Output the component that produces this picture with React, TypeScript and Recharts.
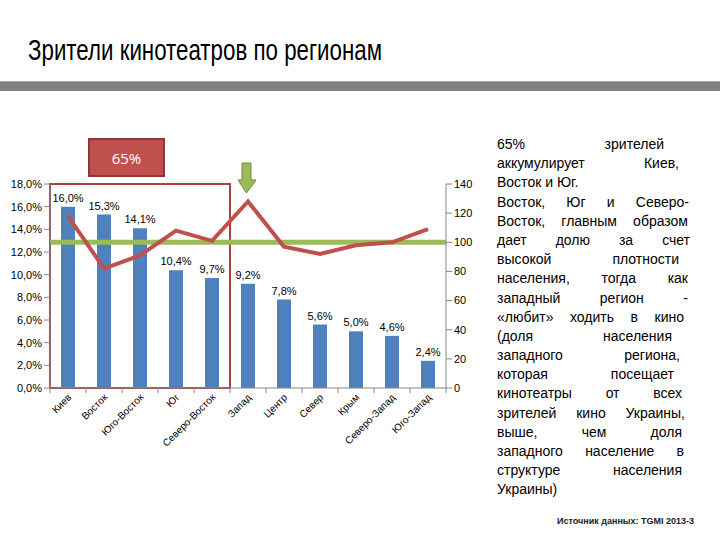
import React from "react";
import {
  ComposedChart,
  Bar,
  Line,
  XAxis,
  YAxis,
  LabelList,
  ReferenceLine,
  ReferenceArea,
} from "recharts";

// регионы и доли зрителей (%), индекс посещаемости
const REGIONS = [
  "Киев",
  "Восток",
  "Юго-Восток",
  "Юг",
  "Северо-Восток",
  "Запад",
  "Центр",
  "Север",
  "Крым",
  "Северо-Запад",
  "Юго-Запад",
];
const SHARE = [0.16, 0.153, 0.141, 0.104, 0.097, 0.092, 0.078, 0.056, 0.05, 0.046, 0.024];
const INDEX = [118, 82, 91, 108, 101, 128, 97, 92, 98, 100, 109];

const LEFT_TICKS = [0, 0.02, 0.04, 0.06, 0.08, 0.1, 0.12, 0.14, 0.16, 0.18];
const RIGHT_TICKS = [0, 20, 40, 60, 80, 100, 120, 140];
const BASELINE = 100;

const NOTE_LINES = [
  "65% зрителей",
  "аккумулирует Киев,",
  "Восток и Юг.",
  "Восток, Юг и Северо-",
  "Восток, главным образом",
  "дает долю за счет",
  "высокой плотности",
  "населения, тогда как",
  "западный регион -",
  "«любит» ходить в кино",
  "(доля населения",
  "западного региона,",
  "которая посещает",
  "кинотеатры от всех",
  "зрителей кино Украины,",
  "выше, чем доля",
  "западного население в",
  "структуре населения",
  "Украины)",
];
// ширина строк (null = без выравнивания)
const NOTE_WIDTHS = [167, 182, null, 192, 191, 193, 182, 191, 191, 187, 175, 183, 177, 185, 188, 185, 187, 185, null];

const data = REGIONS.map((region, i) => ({
  region,
  share: SHARE[i],
  index: INDEX[i],
}));

const pct = (v: number) => (v * 100).toFixed(1).replace(".", ",") + "%";

const FONT = "'Liberation Sans', Arial, sans-serif";

function RegionTick(props: any) {
  const { x, y, payload, index } = props;
  const half = 18;
  return (
    <g>
      <line x1={x - half} x2={x - half} y1={y - 8} y2={y - 3} stroke="#868686" />
      {index === REGIONS.length - 1 && (
        <line x1={x + half} x2={x + half} y1={y - 8} y2={y - 3} stroke="#868686" />
      )}
      <text
        transform={`translate(${x + 4},${y + 2}) rotate(-45)`}
        textAnchor="end"
        fontSize={10}
        fontFamily={FONT}
        fill="#000"
      >
        {payload.value}
      </text>
    </g>
  );
}

export default function App() {
  return (
    <div
      style={{
        position: "absolute",
        left: 0,
        top: 0,
        width: 720,
        height: 540,
        background: "#fff",
        overflow: "hidden",
        fontFamily: FONT,
      }}
    >
      <svg width={720} height={80} style={{ position: "absolute", left: 0, top: 0 }}>
        <text
          x={28}
          y={60}
          fontSize={30}
          fontFamily="'Liberation Sans Narrow', 'Liberation Sans', Arial, sans-serif"
          textLength={354}
          lengthAdjust="spacingAndGlyphs"
          fill="#000"
        >
          Зрители кинотеатров по регионам
        </text>
      </svg>
      <div
        style={{
          position: "absolute",
          left: 0,
          top: 81,
          width: 720,
          height: 10,
          background: "#808080",
          borderTop: "1px solid #a8a8a8",
          boxSizing: "border-box",
        }}
      />

      <div style={{ position: "absolute", left: 0, top: 0 }}>
        <ComposedChart
          width={500}
          height={480}
          data={data}
          margin={{ top: 184, right: 14, bottom: 22, left: 6 }}
        >
          <XAxis
            dataKey="region"
            interval={0}
            tickLine={false}
            height={70}
            axisLine={{ stroke: "#868686" }}
            tick={<RegionTick />}
          />
          <YAxis
            yAxisId="left"
            width={44}
            domain={[0, 0.18]}
            ticks={LEFT_TICKS}
            tickFormatter={pct}
            axisLine={{ stroke: "#868686" }}
            tickLine={{ stroke: "#868686" }}
            tick={{ fontSize: 11, fill: "#000", fontFamily: FONT }}
          />
          <YAxis
            yAxisId="right"
            orientation="right"
            width={40}
            domain={[0, 140]}
            ticks={RIGHT_TICKS}
            axisLine={{ stroke: "#868686" }}
            tickLine={{ stroke: "#868686" }}
            tick={{ fontSize: 11, fill: "#000", fontFamily: FONT }}
          />
          <Bar
            dataKey="share"
            yAxisId="left"
            fill="#4F81BD"
            barSize={14}
            isAnimationActive={false}
          >
            <LabelList
              dataKey="share"
              position="top"
              formatter={(v: any) => pct(Number(v))}
              style={{ fontSize: 11, fill: "#000", fontFamily: FONT }}
            />
          </Bar>
          <ReferenceLine
            yAxisId="right"
            y={BASELINE}
            stroke="#9BBB59"
            strokeWidth={5}
          />
          <Line
            dataKey="index"
            yAxisId="right"
            type="linear"
            stroke="#C0504D"
            strokeWidth={4}
            dot={false}
            isAnimationActive={false}
          />
          <ReferenceArea
            yAxisId="left"
            x1={REGIONS[0]}
            x2={REGIONS[4]}
            y1={0}
            y2={0.18}
            fill="none"
            stroke="#A9423F"
            strokeWidth={2}
          />
        </ComposedChart>
      </div>

      <div
        style={{
          position: "absolute",
          left: 88,
          top: 138,
          width: 77,
          height: 39,
          background: "#C0504D",
          border: "2px solid #8C3836",
          boxSizing: "border-box",
          color: "#fff",
          fontSize: 15,
          display: "flex",
          alignItems: "center",
          justifyContent: "center",
          fontFamily: "'Open Sans', " + FONT,
        }}
      >
        65%
      </div>
      <svg width={20} height={34} style={{ position: "absolute", left: 237, top: 162 }}>
        <polygon
          points="5,1 14,1 14,18 19,18 9.5,31 1,18 5,18"
          fill="#9BBB59"
          stroke="#71893F"
          strokeWidth={1}
        />
      </svg>

      <div style={{ position: "absolute", left: 497, top: 135, fontSize: 14, color: "#000" }}>
        {NOTE_LINES.map((line, i) => (
          <div
            key={i}
            style={{
              height: 19.2,
              lineHeight: "19.2px",
              whiteSpace: "nowrap",
              width: NOTE_WIDTHS[i] ?? undefined,
              textAlign: NOTE_WIDTHS[i] ? "justify" : "left",
              textAlignLast: NOTE_WIDTHS[i] ? "justify" : "left",
            }}
          >
            {line}
          </div>
        ))}
      </div>

      <div
        style={{
          position: "absolute",
          left: 557,
          top: 516,
          fontSize: 9,
          fontWeight: "bold",
          whiteSpace: "nowrap",
          color: "#222",
        }}
      >
        Источник данных: TGMI 2013-3
      </div>
    </div>
  );
}
